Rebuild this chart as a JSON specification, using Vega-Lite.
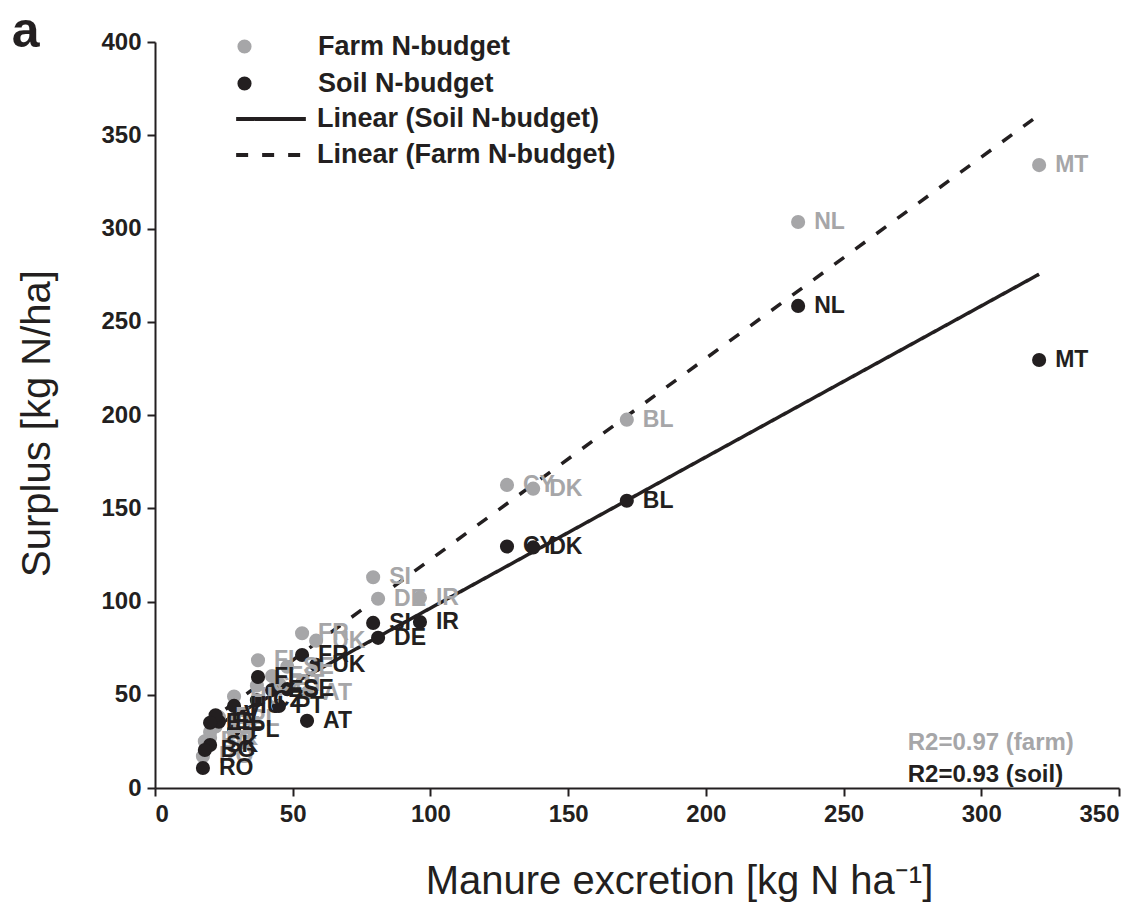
{
  "$schema": "https://vega.github.io/schema/vega-lite/v6.json",
  "width": 964,
  "height": 746,
  "autosize": {"type": "none"},
  "padding": {"left": 155, "top": 42, "right": 24, "bottom": 117},
  "background": "white",
  "config": {
    "view": {"stroke": null},
    "font": "Liberation Sans",
    "axis": {
      "grid": false,
      "domainColor": "#231f20",
      "domainWidth": 2,
      "tickColor": "#231f20",
      "tickWidth": 2,
      "tickSize": 8,
      "labelFont": "Liberation Sans",
      "labelFontWeight": "bold",
      "labelFontSize": 24,
      "labelColor": "#231f20",
      "titleFont": "Liberation Sans",
      "titleFontWeight": "normal",
      "titleFontSize": 40,
      "titleColor": "#231f20"
    },
    "legend": {"padding": 0, "labelFont": "Liberation Sans", "labelLimit": 0}
  },
  "datasets": {
    "pts": [
      {"c": "MT", "m": 321, "b": "Farm N-budget", "s": 334},
      {"c": "NL", "m": 233.5, "b": "Farm N-budget", "s": 303.5},
      {"c": "BL", "m": 171.3, "b": "Farm N-budget", "s": 197.5},
      {"c": "DK", "m": 137.3, "b": "Farm N-budget", "s": 160.5},
      {"c": "CY", "m": 127.8, "b": "Farm N-budget", "s": 162.5},
      {"c": "IR", "m": 96.2, "b": "Farm N-budget", "s": 102},
      {"c": "DE", "m": 81, "b": "Farm N-budget", "s": 101.5},
      {"c": "SI", "m": 79.2, "b": "Farm N-budget", "s": 113},
      {"c": "UK", "m": 58.5, "b": "Farm N-budget", "s": 79},
      {"c": "FR", "m": 53.4, "b": "Farm N-budget", "s": 83},
      {"c": "AT", "m": 55.2, "b": "Farm N-budget", "s": 51},
      {"c": "SE", "m": 48, "b": "Farm N-budget", "s": 65},
      {"c": "ES", "m": 42.5, "b": "Farm N-budget", "s": 60},
      {"c": "FI", "m": 37.4, "b": "Farm N-budget", "s": 68.5},
      {"c": "PT", "m": 45, "b": "Farm N-budget", "s": 56},
      {"c": "CZ", "m": 37, "b": "Farm N-budget", "s": 55},
      {"c": "HU", "m": 28.7, "b": "Farm N-budget", "s": 49},
      {"c": "EL", "m": 23.2, "b": "Farm N-budget", "s": 38},
      {"c": "PL", "m": 28.7, "b": "Farm N-budget", "s": 37},
      {"c": "LV", "m": 22, "b": "Farm N-budget", "s": 33},
      {"c": "EE", "m": 20, "b": "Farm N-budget", "s": 30},
      {"c": "SK", "m": 20, "b": "Farm N-budget", "s": 27},
      {"c": "BG", "m": 18.1, "b": "Farm N-budget", "s": 25},
      {"c": "RO", "m": 17.4, "b": "Farm N-budget", "s": 17},
      {"c": "MT", "m": 321, "b": "Soil N-budget", "s": 229.5},
      {"c": "NL", "m": 233.5, "b": "Soil N-budget", "s": 258.5},
      {"c": "BL", "m": 171.3, "b": "Soil N-budget", "s": 154},
      {"c": "CY", "m": 127.8, "b": "Soil N-budget", "s": 129.5},
      {"c": "DK", "m": 137.3, "b": "Soil N-budget", "s": 129},
      {"c": "IR", "m": 96.2, "b": "Soil N-budget", "s": 89},
      {"c": "DE", "m": 81, "b": "Soil N-budget", "s": 80.5},
      {"c": "SI", "m": 79.2, "b": "Soil N-budget", "s": 88.5},
      {"c": "UK", "m": 58.5, "b": "Soil N-budget", "s": 66},
      {"c": "FR", "m": 53.4, "b": "Soil N-budget", "s": 71.3},
      {"c": "AT", "m": 55.2, "b": "Soil N-budget", "s": 36},
      {"c": "SE", "m": 48, "b": "Soil N-budget", "s": 53},
      {"c": "ES", "m": 42.5, "b": "Soil N-budget", "s": 52.5},
      {"c": "FI", "m": 37.4, "b": "Soil N-budget", "s": 59.5},
      {"c": "PT", "m": 45, "b": "Soil N-budget", "s": 44},
      {"c": "CZ", "m": 37, "b": "Soil N-budget", "s": 47},
      {"c": "HU", "m": 28.7, "b": "Soil N-budget", "s": 44},
      {"c": "EL", "m": 23.2, "b": "Soil N-budget", "s": 35.5},
      {"c": "PL", "m": 28.7, "b": "Soil N-budget", "s": 31},
      {"c": "LV", "m": 22, "b": "Soil N-budget", "s": 39},
      {"c": "EE", "m": 20, "b": "Soil N-budget", "s": 35},
      {"c": "SK", "m": 20, "b": "Soil N-budget", "s": 23},
      {"c": "BG", "m": 18.1, "b": "Soil N-budget", "s": 20.4},
      {"c": "RO", "m": 17.4, "b": "Soil N-budget", "s": 10.7}
    ],
    "fits": [
      {"fit": "Linear (Soil N-budget)", "m": 18, "s": 30},
      {"fit": "Linear (Soil N-budget)", "m": 321, "s": 275.5},
      {"fit": "Linear (Farm N-budget)", "m": 18, "s": 34},
      {"fit": "Linear (Farm N-budget)", "m": 322, "s": 362}
    ]
  },
  "layer": [
    {
      "data": {"name": "fits"},
      "mark": {"type": "line", "color": "#231f20", "strokeWidth": 3.5},
      "encoding": {
        "x": {"field": "m", "type": "quantitative", "scale": {"domain": [0, 350], "nice": false},
          "axis": {"values": [0, 50, 100, 150, 200, 250, 300, 350], "title": "Manure excretion [kg N ha⁻¹]", "labelPadding": 6,
            "titleX": 524, "titleY": 105, "titleAlign": "center", "titleBaseline": "alphabetic"}},
        "y": {"field": "s", "type": "quantitative", "scale": {"domain": [0, 400], "nice": false},
          "axis": {"values": [0, 50, 100, 150, 200, 250, 300, 350, 400], "title": "Surplus [kg N/ha]", "labelPadding": 6,
            "titleAngle": 270, "titleX": -106, "titleY": 381, "titleAlign": "center", "titleBaseline": "alphabetic"}},
        "strokeDash": {"field": "fit", "type": "nominal",
          "scale": {"domain": ["Linear (Soil N-budget)", "Linear (Farm N-budget)"], "range": [[1, 0], [12, 14]]},
          "legend": {"orient": "none", "legendX": 102, "legendY": 63, "title": null, "symbolType": "M-3,0H3", "symbolSize": 540,
            "symbolStrokeWidth": 4, "symbolStrokeColor": "#231f20", "labelOffset": 32, "labelFontSize": 27, "labelFontWeight": "bold",
            "labelColor": "#231f20", "rowPadding": 9}}
      }
    },
    {
      "data": {"name": "pts"},
      "mark": {"type": "point", "filled": true, "opacity": 1, "size": 200, "shape": "circle"},
      "encoding": {
        "x": {"field": "m", "type": "quantitative"},
        "y": {"field": "s", "type": "quantitative"},
        "color": {"field": "b", "type": "nominal",
          "scale": {"domain": ["Farm N-budget", "Soil N-budget"], "range": ["#a6a6a8", "#231f20"]},
          "legend": {"orient": "none", "legendX": 76, "legendY": -9, "title": null, "symbolType": "circle", "symbolSize": 200,
            "labelOffset": 60, "labelFontSize": 27, "labelFontWeight": "bold", "labelColor": "#231f20", "rowPadding": 9}}
      }
    },
    {
      "data": {"name": "pts"},
      "mark": {"type": "text", "align": "left", "baseline": "middle", "dx": 16, "fontSize": 23, "fontWeight": "bold"},
      "encoding": {
        "x": {"field": "m", "type": "quantitative"},
        "y": {"field": "s", "type": "quantitative"},
        "text": {"field": "c"},
        "color": {"field": "b", "type": "nominal", "legend": null}
      }
    },
    {
      "data": {"values": [{"t": "R2=0.97 (farm)"}]},
      "mark": {"type": "text", "align": "left", "baseline": "middle", "fontSize": 24, "fontWeight": "bold", "color": "#a6a6a8"},
      "encoding": {"x": {"datum": 273.3}, "y": {"datum": 24}, "text": {"field": "t"}}
    },
    {
      "data": {"values": [{"t": "R2=0.93 (soil)"}]},
      "mark": {"type": "text", "align": "left", "baseline": "middle", "fontSize": 24, "fontWeight": "bold", "color": "#231f20"},
      "encoding": {"x": {"datum": 273.3}, "y": {"datum": 7}, "text": {"field": "t"}}
    },
    {
      "data": {"values": [{"t": "a"}]},
      "mark": {"type": "text", "align": "left", "baseline": "alphabetic", "fontSize": 50, "fontWeight": "bold", "color": "#231f20", "clip": false},
      "encoding": {"x": {"datum": -52}, "y": {"datum": 397.3}, "text": {"field": "t"}}
    }
  ]
}
